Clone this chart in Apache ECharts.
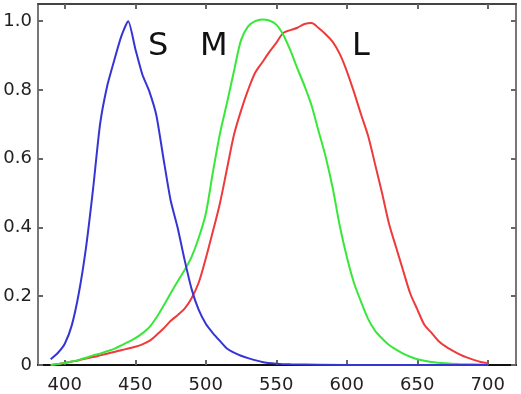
<!DOCTYPE html>
<html>
<head>
<meta charset="utf-8">
<script src="https://cdn.jsdelivr.net/npm/echarts@6/dist/echarts.min.js"></script>
<style>
html,body{margin:0;padding:0;background:#fff;}
#chart{width:521px;height:394px;}
</style>
</head>
<body>
<div id="chart"></div>
<script>
// Tick labels
const xTicks = [400, 450, 500, 550, 600, 650, 700];
const yTicks = [0, 0.2, 0.4, 0.6, 0.8, 1.0];

// S cone (blue)
const sWavelength = [390, 395, 400, 405, 410, 415, 420, 425, 430, 435, 440, 445, 450, 455, 460, 465, 470, 475, 480, 485, 490, 495, 500, 505, 510, 515, 520, 525, 530, 540, 550, 560, 600, 650, 700];
const sValues = [0.017, 0.035, 0.062, 0.116, 0.21, 0.34, 0.51, 0.70, 0.81, 0.885, 0.955, 1.0, 0.92, 0.845, 0.795, 0.725, 0.60, 0.48, 0.40, 0.305, 0.22, 0.16, 0.12, 0.093, 0.07, 0.048, 0.036, 0.027, 0.02, 0.009, 0.004, 0.002, 0.0, 0.0, 0.0];

// M cone (green)
const mWavelength = [390, 395, 400, 405, 410, 415, 420, 425, 430, 435, 440, 445, 450, 455, 460, 465, 470, 475, 480, 485, 490, 495, 500, 505, 510, 515, 520, 525, 530, 535, 540, 545, 550, 555, 560, 565, 570, 575, 580, 585, 590, 595, 600, 605, 610, 615, 620, 625, 630, 635, 640, 645, 650, 660, 670, 680, 700];
const mValues = [0.0, 0.003, 0.006, 0.01, 0.015, 0.021, 0.028, 0.033, 0.04, 0.047, 0.057, 0.067, 0.078, 0.092, 0.11, 0.138, 0.172, 0.208, 0.243, 0.276, 0.315, 0.37, 0.44, 0.56, 0.672, 0.762, 0.855, 0.945, 0.985, 1.0, 1.005, 1.002, 0.99, 0.96, 0.915, 0.862, 0.812, 0.755, 0.68, 0.606, 0.515, 0.405, 0.315, 0.24, 0.185, 0.135, 0.10, 0.077, 0.058, 0.045, 0.033, 0.024, 0.017, 0.009, 0.005, 0.003, 0.001];

// L cone (red)
const lWavelength = [390, 395, 400, 405, 410, 415, 420, 425, 430, 435, 440, 445, 450, 455, 460, 465, 470, 475, 480, 485, 490, 495, 500, 505, 510, 515, 520, 525, 530, 535, 540, 545, 550, 555, 560, 565, 570, 575, 580, 585, 590, 595, 600, 605, 610, 615, 620, 625, 630, 635, 640, 645, 650, 655, 660, 665, 670, 675, 680, 685, 690, 695, 700];
const lValues = [0.0, 0.003, 0.006, 0.01, 0.014, 0.019, 0.023, 0.028, 0.033, 0.038, 0.043, 0.048, 0.053, 0.06, 0.07, 0.087, 0.106, 0.128, 0.145, 0.164, 0.195, 0.24, 0.31, 0.388, 0.47, 0.57, 0.67, 0.74, 0.80, 0.85, 0.88, 0.91, 0.937, 0.966, 0.974, 0.981, 0.992, 0.995, 0.98, 0.962, 0.94, 0.905, 0.855, 0.795, 0.73, 0.668, 0.585, 0.50, 0.41, 0.342, 0.274, 0.208, 0.162, 0.117, 0.094, 0.07, 0.054, 0.042, 0.031, 0.022, 0.015, 0.009, 0.005];

// Curve labels
const curveLabels = ['S', 'M', 'L'];

const FONT = 'DejaVu Sans';
const pairs = (xs, ys) => xs.map((x, i) => [x, ys[i]]);

const chart = echarts.init(document.getElementById('chart'), null, {renderer: 'canvas'});

const baseX = {
  type: 'value', min: 381, max: 720,
  splitLine: {show: false},
  axisLine: {show: true, onZero: false, lineStyle: {color: '#222', width: 2}},
  axisTick: {show: true, inside: true, length: 5, customValues: xTicks, lineStyle: {color: '#666', width: 2}}
};
const baseY = {
  type: 'value', min: 0, max: 1.05,
  splitLine: {show: false},
  axisLine: {show: true, onZero: false, lineStyle: {color: '#777', width: 2}},
  axisTick: {show: true, inside: true, length: 5, customValues: yTicks, lineStyle: {color: '#666', width: 2}}
};

const option = {
  backgroundColor: '#fff',
  animation: false,
  grid: {left: 38, right: 5, top: 4, bottom: 29, containLabel: false},
  xAxis: [
    Object.assign({}, baseX, {
      position: 'bottom',
      axisLine: {show: true, onZero: false, lineStyle: {color: '#111', width: 2}},
      axisLabel: {show: true, customValues: xTicks, margin: 11, fontFamily: FONT, fontSize: 18, color: '#222',
        formatter: v => String(v)}
    }),
    Object.assign({}, baseX, {
      position: 'top',
      axisLine: {show: true, onZero: false, lineStyle: {color: '#444', width: 2}},
      axisLabel: {show: false}
    })
  ],
  yAxis: [
    Object.assign({}, baseY, {
      position: 'left',
      axisLabel: {show: true, customValues: yTicks, margin: 6, fontFamily: FONT, fontSize: 18, color: '#222',
        formatter: v => (v === 0 ? '0' : v.toFixed(1))}
    }),
    Object.assign({}, baseY, {
      position: 'right',
      axisLabel: {show: false}
    })
  ],
  series: [
    {name: 'L', type: 'line', xAxisIndex: 0, yAxisIndex: 0, data: pairs(lWavelength, lValues),
      showSymbol: false, smooth: 0.3, lineStyle: {color: '#ee3a3a', width: 2}, z: 2},
    {name: 'M', type: 'line', xAxisIndex: 0, yAxisIndex: 0, data: pairs(mWavelength, mValues),
      showSymbol: false, smooth: 0.3, lineStyle: {color: '#38e838', width: 2}, z: 3},
    {name: 'S', type: 'line', xAxisIndex: 0, yAxisIndex: 0, data: pairs(sWavelength, sValues),
      showSymbol: false, smooth: 0.2, lineStyle: {color: '#3535d5', width: 2}, z: 4,
      clip: false}
  ],
  graphic: [
    {type: 'text', left: 148, top: 31, style: {text: curveLabels[0], font: '32px "DejaVu Sans"', fill: '#111'}},
    {type: 'text', left: 200, top: 31, style: {text: curveLabels[1], font: '32px "DejaVu Sans"', fill: '#111'}},
    {type: 'text', left: 352, top: 31, style: {text: curveLabels[2], font: '32px "DejaVu Sans"', fill: '#111'}}
  ]
};
chart.setOption(option);
</script>
</body>
</html>
